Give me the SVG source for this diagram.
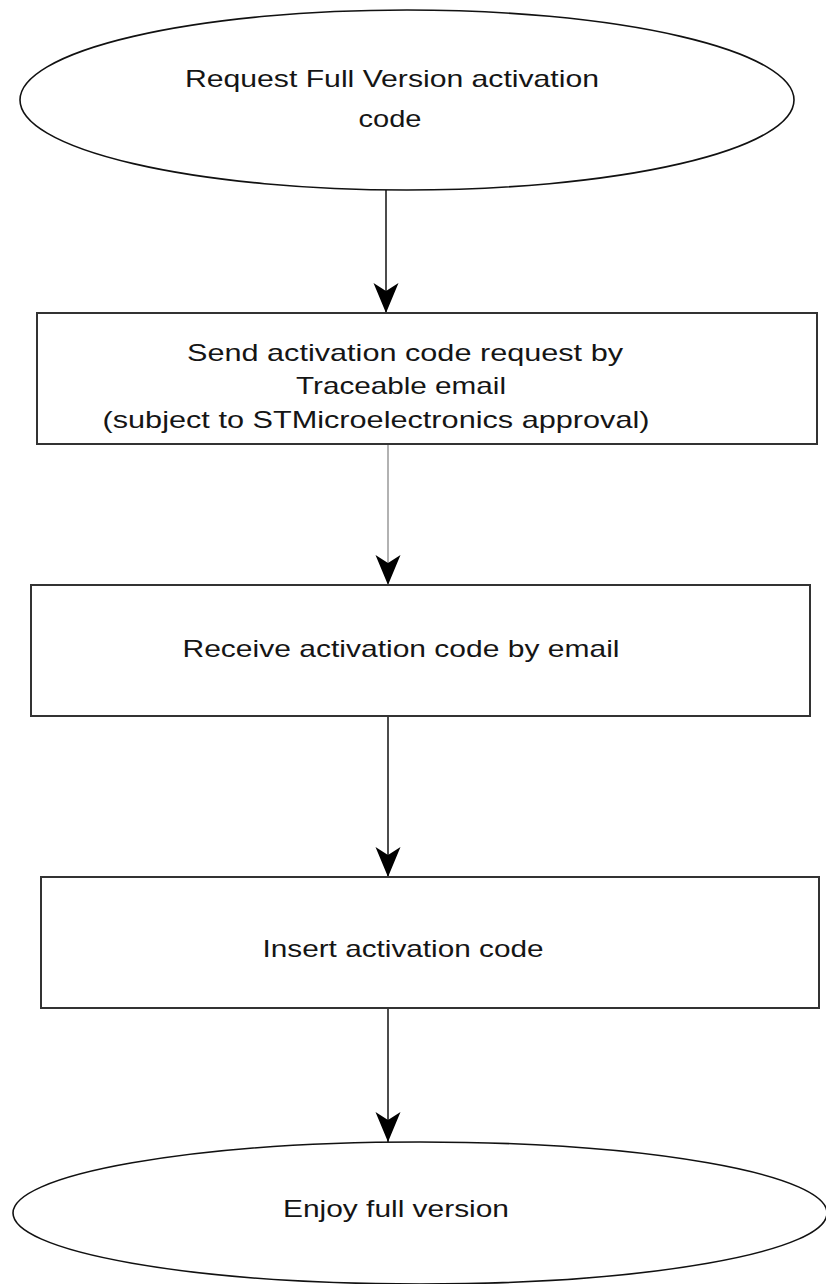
<svg xmlns="http://www.w3.org/2000/svg" width="826" height="1284" viewBox="0 0 826 1284">
<style>
.bg{fill:#fff}
.term{fill:#fff;stroke:#111;stroke-width:1.6}
.box{fill:#fff;stroke:#333;stroke-width:2}
.lbl{font-family:"Liberation Sans",Arial,sans-serif;font-size:24px;fill:#151515;text-anchor:middle}
.conn{stroke:#111;stroke-width:1.5;fill:none}
.conn.gray{stroke:#999}
</style>
<defs>
<marker id="ah" viewBox="-31 -13 32 26" markerWidth="32" markerHeight="26" refX="0" refY="0" orient="auto" markerUnits="userSpaceOnUse">
<path d="M0,0 L-30,-12.5 L-22,0 L-30,12.5 Z" fill="#000"/>
</marker>
</defs>
<rect class="bg" x="0" y="0" width="826" height="1284"/>
<g id="connectors">
<line class="conn" x1="386" y1="190" x2="386" y2="313" marker-end="url(#ah)"/>
<line class="conn gray" x1="388" y1="444" x2="388" y2="585" marker-end="url(#ah)"/>
<line class="conn" x1="388" y1="716" x2="388" y2="877" marker-end="url(#ah)"/>
<line class="conn" x1="388" y1="1008" x2="388" y2="1142" marker-end="url(#ah)"/>
</g>
<g id="start">
<ellipse class="term" cx="407" cy="100" rx="387" ry="90"/>
<text class="lbl" x="392" y="87" textLength="414" lengthAdjust="spacingAndGlyphs">Request Full Version activation</text>
<text class="lbl" x="390" y="127" textLength="63" lengthAdjust="spacingAndGlyphs">code</text>
</g>
<g id="send">
<rect class="box" x="37" y="313" width="780" height="131"/>
<text class="lbl" x="405" y="361" textLength="436" lengthAdjust="spacingAndGlyphs">Send activation code request by</text>
<text class="lbl" x="401" y="394" textLength="210" lengthAdjust="spacingAndGlyphs">Traceable email</text>
<text class="lbl" x="376" y="428" textLength="547" lengthAdjust="spacingAndGlyphs">(subject to STMicroelectronics approval)</text>
</g>
<g id="receive">
<rect class="box" x="31" y="585" width="779" height="131"/>
<text class="lbl" x="401" y="657" textLength="437" lengthAdjust="spacingAndGlyphs">Receive activation code by email</text>
</g>
<g id="insert">
<rect class="box" x="41" y="877" width="778" height="131"/>
<text class="lbl" x="403" y="957" textLength="281" lengthAdjust="spacingAndGlyphs">Insert activation code</text>
</g>
<g id="end">
<ellipse class="term" cx="420" cy="1213" rx="407" ry="71"/>
<text class="lbl" x="396" y="1217" textLength="226" lengthAdjust="spacingAndGlyphs">Enjoy full version</text>
</g>
</svg>
